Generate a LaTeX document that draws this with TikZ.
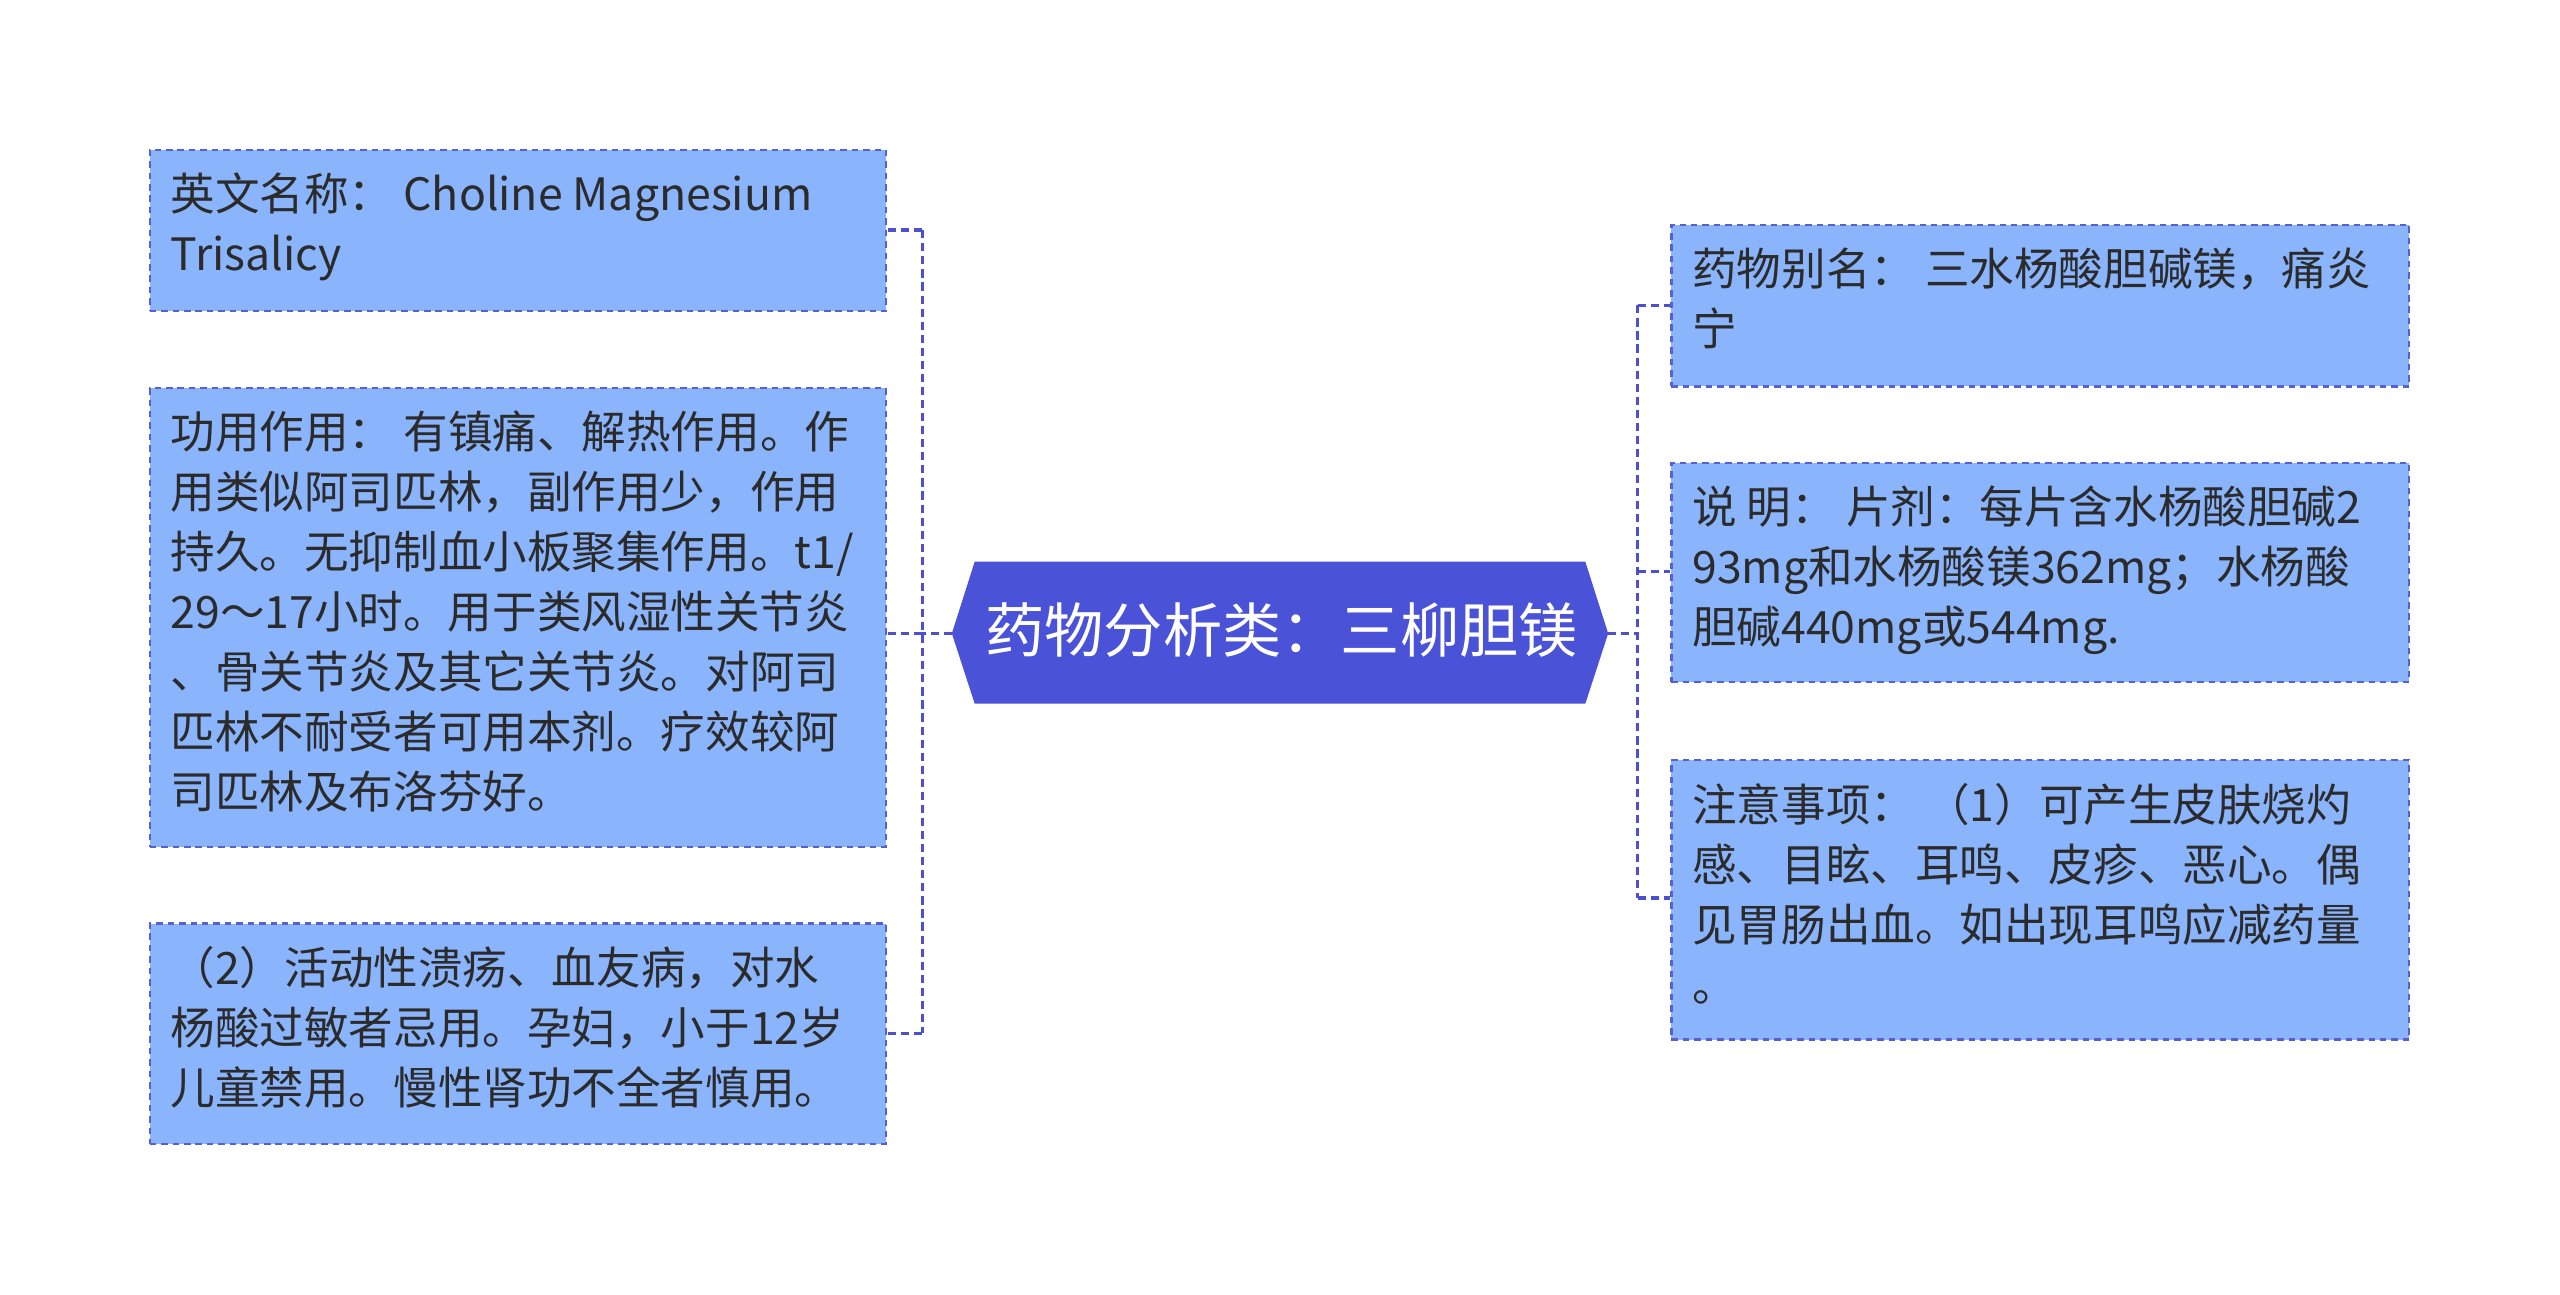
\documentclass[tikz,border=0pt]{standalone}
\usepackage{fontspec}
\setmainfont{Noto Sans CJK SC}
\begin{document}
\begin{tikzpicture}[x=1pt,y=-1pt,
 box/.style={draw=boxline,dash pattern=on 4pt off 3pt,line width=1.4pt,fill=boxfill,anchor=north west,inner sep=0pt},
 txt/.style={anchor=north west,align=left,text=txtc,font=\fontsize{27.3}{36.8}\selectfont},
 conn/.style={draw=connc,dash pattern=on 5pt off 3pt,line width=2.2pt}]
\definecolor{boxfill}{HTML}{8AB4FB}
\definecolor{boxline}{HTML}{5A5FD0}
\definecolor{txtc}{HTML}{2B2B2B}
\definecolor{connc}{HTML}{4B4FD0}
\definecolor{hexc}{HTML}{4A52D8}
\useasboundingbox (0,0) rectangle (1568,793);
% left boxes
\node[box,minimum width=451pt,minimum height=99pt] (l1) at (91,91) {};
\node[box,minimum width=451pt,minimum height=281pt] (l2) at (91,237) {};
\node[box,minimum width=451pt,minimum height=135pt] (l3) at (91,565) {};
\node[txt] (t1) at (101,102) {英文名称：  Choline Magnesium\\Trisalicy};
\node[txt] (t2) at (101,248) {功用作用：  有镇痛、解热作用。作\\用类似阿司匹林，副作用少，作用\\持久。无抑制血小板聚集作用。t1/\\29～17小时。用于类风湿性关节炎\\、骨关节炎及其它关节炎。对阿司\\匹林不耐受者可用本剂。疗效较阿\\司匹林及布洛芬好。};
\node[txt] (t3) at (101,576) {（2）活动性溃疡、血友病，对水\\杨酸过敏者忌用。孕妇，小于12岁\\儿童禁用。慢性肾功不全者慎用。};
% right boxes
\node[box,minimum width=452pt,minimum height=99pt] (r1) at (1023,137) {};
\node[box,minimum width=452pt,minimum height=134pt] (r2) at (1023,283) {};
\node[box,minimum width=452pt,minimum height=171pt] (r3) at (1023,465) {};
\node[txt] (u1) at (1033,148) {药物别名：  三水杨酸胆碱镁，痛炎\\宁};
\node[txt] (u2) at (1033,294) {说 明：  片剂：每片含水杨酸胆碱2\\93mg和水杨酸镁362mg；水杨酸\\胆碱440mg或544mg.};
\node[txt] (u3) at (1033,476) {注意事项：  （1）可产生皮肤烧灼\\感、目眩、耳鸣、皮疹、恶心。偶\\见胃肠出血。如出现耳鸣应减药量\\。};
% center
\fill[hexc] (583,388)--(597,344)--(971,344)--(985,388)--(971,431)--(597,431)--cycle;
\node[text=white,font=\fontsize{36.3}{40}\selectfont] (c) at (785,386) {药物分析类：三柳胆镁};
\coordinate (cl) at (583,388);
\coordinate (cr) at (985,388);
% connectors
\draw[conn] (cl) -- (565,388);
\draw[conn] (565,141) -- (565,633);
\draw[conn] (565,141) -- (l1.east|-0,141);
\draw[conn] (565,388) -- (l2.east|-0,388);
\draw[conn] (565,633) -- (l3.east|-0,633);
\draw[conn] (cr) -- (1003,388);
\draw[conn] (1003,187) -- (1003,550);
\draw[conn] (1003,187) -- (r1.west|-0,187);
\draw[conn] (1003,350) -- (r2.west|-0,350);
\draw[conn] (1003,550) -- (r3.west|-0,550);
\end{tikzpicture}
\end{document}
